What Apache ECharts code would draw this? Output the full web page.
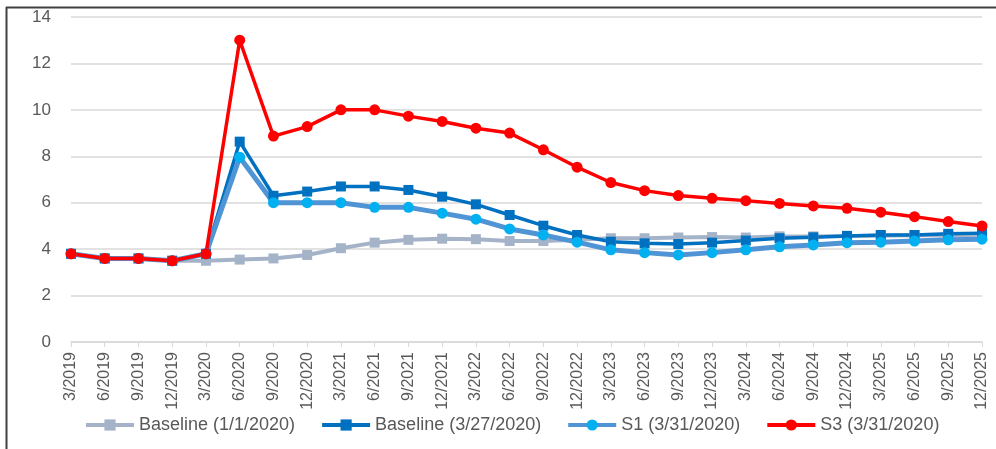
<!DOCTYPE html>
<html>
<head>
<meta charset="utf-8">
<script src="https://cdn.jsdelivr.net/npm/echarts@6/dist/echarts.min.js"></script>
<style>
html,body{margin:0;padding:0;background:#fff;}
#c{width:996px;height:449px;}
</style>
</head>
<body>
<div id="c"></div>
<script>
var categories = ['3/2019','6/2019','9/2019','12/2019','3/2020','6/2020','9/2020','12/2020','3/2021','6/2021','9/2021','12/2021','3/2022','6/2022','9/2022','12/2022','3/2023','6/2023','9/2023','12/2023','3/2024','6/2024','9/2024','12/2024','3/2025','6/2025','9/2025','12/2025'];
var baselineJan = [3.8,3.6,3.6,3.5,3.5,3.55,3.6,3.75,4.04,4.28,4.4,4.45,4.43,4.35,4.35,4.4,4.47,4.47,4.5,4.52,4.5,4.55,4.55,4.57,4.58,4.6,4.6,4.62];
var baselineMar = [3.8,3.6,3.6,3.5,3.8,8.63,6.3,6.48,6.7,6.7,6.55,6.26,5.93,5.47,5.01,4.61,4.32,4.25,4.22,4.28,4.37,4.47,4.51,4.57,4.61,4.61,4.66,4.69];
var s1 = [3.8,3.6,3.6,3.5,3.8,7.96,6.0,6.0,6.0,5.8,5.8,5.55,5.29,4.87,4.61,4.3,3.97,3.85,3.75,3.85,3.97,4.1,4.18,4.28,4.3,4.35,4.4,4.43];
var s3 = [3.8,3.6,3.6,3.5,3.8,13.0,8.87,9.28,10.0,10.0,9.73,9.5,9.21,9.0,8.28,7.53,6.87,6.52,6.31,6.19,6.09,5.97,5.86,5.76,5.59,5.4,5.19,5.0];
var seriesNames = ['Baseline (1/1/2020)','Baseline (3/27/2020)','S1 (3/31/2020)','S3 (3/31/2020)'];

var chart = echarts.init(document.getElementById('c'), null, {renderer:'canvas'});
var font = 'Liberation Sans, Arial, sans-serif';
chart.setOption({
  animation:false,
  backgroundColor:'#ffffff',
  grid:{left:71,right:14,top:17,bottom:107},
  graphic:[
    {type:'line',shape:{x1:6.5,y1:7,x2:6.5,y2:449},style:{stroke:'#404040',lineWidth:2}},
    {type:'line',shape:{x1:6,y1:7.5,x2:996,y2:7.5},style:{stroke:'#404040',lineWidth:2}}
  ],
  legend:{
    top:411,left:79,itemWidth:48,itemHeight:14,itemGap:25,
    lineStyle:{width:4},
    textStyle:{fontFamily:font,fontSize:18,color:'#595959'},
    data:seriesNames
  },
  xAxis:{
    type:'category',data:categories,boundaryGap:false,
    axisLine:{lineStyle:{color:'#d9d9d9',width:1.5}},
    axisTick:{show:true,length:5,lineStyle:{color:'#d9d9d9'}},
    axisLabel:{rotate:90,interval:0,margin:10,fontFamily:font,fontSize:16,color:'#595959'}
  },
  yAxis:{
    type:'value',min:0,max:14,interval:2,
    axisLine:{show:false},axisTick:{show:false},
    splitLine:{lineStyle:{color:'#d9d9d9',width:1.5}},
    axisLabel:{margin:20,fontFamily:font,fontSize:17,color:'#595959'}
  },
  series:[
    {name:seriesNames[0],type:'line',data:baselineJan,symbol:'rect',symbolSize:10,
     lineStyle:{color:'#A5B3C9',width:4},itemStyle:{color:'#A5B3C9'}},
    {name:seriesNames[1],type:'line',data:baselineMar,symbol:'rect',symbolSize:10,
     lineStyle:{color:'#0070C0',width:3.5},itemStyle:{color:'#0070C0'}},
    {name:seriesNames[2],type:'line',data:s1,symbol:'circle',symbolSize:11,
     lineStyle:{color:'#4F94D4',width:5},itemStyle:{color:'#00B0F0'}},
    {name:seriesNames[3],type:'line',data:s3,symbol:'circle',symbolSize:11,
     lineStyle:{color:'#FF0000',width:3.5},itemStyle:{color:'#FF0000'}}
  ]
});
</script>
</body>
</html>
